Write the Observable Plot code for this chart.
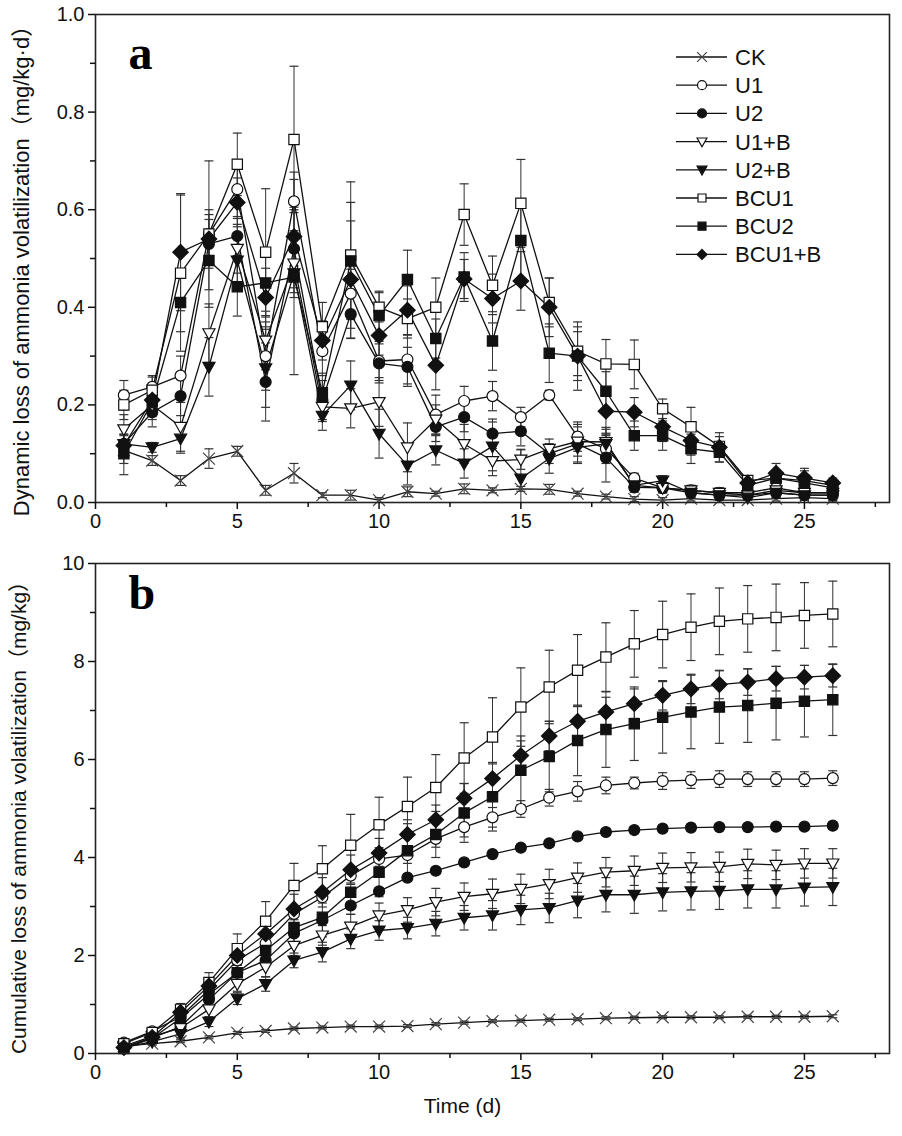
<!DOCTYPE html>
<html><head><meta charset="utf-8">
<script src="https://cdn.jsdelivr.net/npm/d3@7"></script>
<script src="https://cdn.jsdelivr.net/npm/@observablehq/plot@0.6"></script>
<style>
body{margin:0;background:#fff;}
#chart{width:902px;}
#chart svg{display:block;}
</style></head><body><div id="chart"></div>
<script>
// ---------- data ----------
const days = [1,2,3,4,5,6,7,8,9,10,11,12,13,14,15,16,17,18,19,20,21,22,23,24,25,26];
const seriesNames = ["CK","U1","U2","U1+B","U2+B","BCU1","BCU2","BCU1+B"];

// (a) dynamic loss, mg/kg·d
const dynCK   = [0.107,0.086,0.045,0.09,0.105,0.025,0.06,0.015,0.015,0.005,0.022,0.018,0.028,0.025,0.028,0.027,0.018,0.012,0.007,0.005,0.008,0.005,0.005,0.008,0.01,0.008];
const dynU1   = [0.22,0.237,0.26,0.55,0.642,0.30,0.617,0.31,0.428,0.29,0.293,0.18,0.208,0.218,0.175,0.22,0.135,0.11,0.05,0.03,0.025,0.02,0.02,0.03,0.02,0.02];
const dynU2   = [0.12,0.185,0.218,0.53,0.546,0.247,0.52,0.21,0.386,0.285,0.278,0.155,0.175,0.141,0.146,0.10,0.12,0.092,0.031,0.03,0.02,0.015,0.015,0.02,0.015,0.015];
const dynU1B  = [0.15,0.20,0.155,0.347,0.52,0.332,0.49,0.196,0.193,0.206,0.113,0.17,0.12,0.085,0.088,0.11,0.125,0.124,0.035,0.03,0.025,0.02,0.015,0.025,0.02,0.02];
const dynU2B  = [0.12,0.113,0.131,0.278,0.496,0.275,0.47,0.178,0.24,0.141,0.076,0.107,0.08,0.115,0.049,0.09,0.113,0.12,0.035,0.045,0.02,0.015,0.01,0.02,0.015,0.015];
const dynBCU1 = [0.20,0.23,0.47,0.55,0.693,0.513,0.744,0.36,0.507,0.40,0.377,0.40,0.59,0.445,0.613,0.41,0.31,0.284,0.283,0.192,0.155,0.115,0.045,0.05,0.045,0.035];
const dynBCU2 = [0.10,0.206,0.41,0.496,0.442,0.45,0.462,0.225,0.495,0.383,0.457,0.336,0.462,0.331,0.537,0.306,0.30,0.228,0.137,0.137,0.11,0.103,0.035,0.05,0.04,0.03];
const dynBCU1B= [0.117,0.21,0.513,0.54,0.615,0.42,0.545,0.332,0.457,0.342,0.394,0.281,0.458,0.418,0.454,0.40,0.30,0.187,0.185,0.155,0.127,0.113,0.04,0.06,0.05,0.04];

const dynErrCK   = [0.05,0.01,0.01,0.02,0.01,0.01,0.02,0.005,0.01,0.005,0.01,0.005,0.01,0.005,0.005,0.01,0.005,0.005,0.005,0.005,0.005,0.005,0.005,0.005,0.005,0.005];
const dynErrU1   = [0.03,0.02,0.04,0.05,0.06,0.07,0.06,0.05,0.05,0.04,0.05,0.04,0.03,0.03,0.02,0.01,0.03,0.03,0.01,0.01,0.01,0.01,0.01,0.01,0.01,0.01];
const dynErrU2   = [0.02,0.03,0.04,0.05,0.04,0.08,0.08,0.04,0.05,0.04,0.04,0.03,0.03,0.03,0.03,0.02,0.04,0.05,0.01,0.01,0.01,0.01,0.01,0.01,0.01,0.01];
const dynErrU1B  = [0.03,0.03,0.05,0.06,0.05,0.06,0.06,0.03,0.04,0.05,0.05,0.03,0.04,0.03,0.02,0.02,0.03,0.03,0.01,0.01,0.01,0.01,0.01,0.01,0.01,0.01];
const dynErrU2B  = [0.02,0.01,0.03,0.06,0.05,0.08,0.05,0.03,0.05,0.05,0.04,0.03,0.03,0.05,0.06,0.03,0.03,0.03,0.01,0.01,0.01,0.01,0.01,0.01,0.01,0.01];
const dynErrBCU1 = [0.03,0.03,0.16,0.15,0.064,0.13,0.15,0.05,0.15,0.03,0.04,0.06,0.063,0.06,0.09,0.05,0.05,0.05,0.05,0.02,0.04,0.02,0.01,0.01,0.02,0.01];
const dynErrBCU2 = [0.02,0.03,0.06,0.06,0.06,0.07,0.2,0.04,0.12,0.05,0.06,0.04,0.05,0.06,0.08,0.06,0.05,0.04,0.03,0.03,0.03,0.02,0.01,0.01,0.01,0.01];
const dynErrBCU1B= [0.02,0.03,0.12,0.05,0.05,0.06,0.06,0.04,0.12,0.04,0.05,0.05,0.04,0.05,0.06,0.06,0.07,0.05,0.03,0.03,0.03,0.03,0.01,0.02,0.02,0.01];

// (b) cumulative loss, mg/kg
const cumCK   = [0.15,0.2,0.25,0.33,0.42,0.46,0.51,0.53,0.55,0.55,0.56,0.6,0.63,0.66,0.67,0.69,0.7,0.72,0.73,0.74,0.74,0.74,0.75,0.75,0.75,0.76];
const cumU1   = [0.22,0.45,0.75,1.3,1.9,2.25,2.85,3.19,3.63,3.97,4.05,4.38,4.62,4.82,4.99,5.22,5.35,5.47,5.52,5.56,5.58,5.6,5.6,5.6,5.6,5.62];
const cumU2   = [0.12,0.32,0.55,1.1,1.65,1.9,2.45,2.72,3.02,3.31,3.59,3.73,3.90,4.07,4.2,4.29,4.43,4.52,4.56,4.59,4.61,4.62,4.62,4.63,4.63,4.65];
const cumU1B  = [0.15,0.35,0.52,0.9,1.42,1.76,2.2,2.41,2.59,2.82,2.93,3.09,3.2,3.26,3.36,3.46,3.59,3.70,3.73,3.79,3.80,3.81,3.87,3.85,3.88,3.88];
const cumU2B  = [0.12,0.24,0.4,0.65,1.12,1.42,1.9,2.07,2.34,2.51,2.56,2.65,2.77,2.82,2.93,2.97,3.12,3.24,3.24,3.29,3.31,3.32,3.35,3.35,3.39,3.40];
const cumBCU1 = [0.2,0.43,0.9,1.45,2.14,2.7,3.43,3.77,4.25,4.67,5.04,5.43,6.03,6.46,7.07,7.48,7.82,8.09,8.36,8.55,8.70,8.82,8.87,8.90,8.94,8.97];
const cumBCU2 = [0.1,0.31,0.72,1.21,1.65,2.1,2.57,2.78,3.29,3.70,4.14,4.47,4.91,5.24,5.78,6.06,6.39,6.61,6.73,6.86,6.97,7.07,7.10,7.15,7.19,7.22];
const cumBCU1B= [0.12,0.33,0.84,1.38,2.0,2.44,2.95,3.29,3.75,4.09,4.47,4.77,5.21,5.61,6.08,6.48,6.78,6.97,7.14,7.31,7.44,7.53,7.58,7.65,7.68,7.71];

const cumErrCK   = [0.03,0.03,0.03,0.03,0.03,0.03,0.03,0.03,0.03,0.03,0.03,0.03,0.03,0.03,0.03,0.03,0.03,0.03,0.03,0.03,0.03,0.03,0.03,0.03,0.03,0.03];
const cumErrU1   = [0.03,0.05,0.08,0.1,0.1,0.12,0.12,0.12,0.15,0.15,0.17,0.17,0.2,0.2,0.17,0.17,0.2,0.17,0.12,0.17,0.17,0.17,0.15,0.15,0.15,0.15];
const cumErrU2   = [0.03,0.04,0.05,0.05,0.06,0.06,0.06,0.06,0.07,0.07,0.07,0.07,0.07,0.07,0.07,0.07,0.07,0.07,0.07,0.07,0.07,0.07,0.07,0.07,0.07,0.07];
const cumErrU1B  = [0.03,0.06,0.1,0.15,0.15,0.2,0.2,0.2,0.25,0.25,0.25,0.28,0.28,0.3,0.3,0.3,0.3,0.3,0.3,0.3,0.3,0.3,0.3,0.3,0.3,0.3];
const cumErrU2B  = [0.03,0.05,0.08,0.1,0.12,0.15,0.15,0.2,0.2,0.2,0.22,0.25,0.25,0.3,0.3,0.3,0.35,0.35,0.38,0.38,0.38,0.38,0.38,0.38,0.38,0.38];
const cumErrBCU1 = [0.05,0.08,0.12,0.2,0.3,0.4,0.45,0.47,0.63,0.56,0.6,0.67,0.72,0.8,0.8,0.75,0.73,0.7,0.68,0.68,0.68,0.68,0.68,0.68,0.67,0.67];
const cumErrBCU2 = [0.03,0.05,0.1,0.15,0.2,0.3,0.35,0.4,0.45,0.5,0.55,0.47,0.6,0.7,0.7,0.72,0.72,0.77,0.75,0.73,0.75,0.74,0.75,0.75,0.73,0.73];
const cumErrBCU1B= [0.03,0.05,0.1,0.15,0.2,0.25,0.3,0.3,0.3,0.3,0.3,0.3,0.3,0.3,0.3,0.3,0.3,0.3,0.3,0.3,0.3,0.29,0.27,0.25,0.24,0.23];

const xMajor = [0,5,10,15,20,25];
const xMinor = [2.5,7.5,12.5,17.5,22.5,27.5];
const yMajorA = [0,0.2,0.4,0.6,0.8,1.0];
const yMinorA = [0.1,0.3,0.5,0.7,0.9];
const yMajorB = [0,2,4,6,8,10];
const yMinorB = [1,3,5,7,9];
const titleA = "Dynamic loss of ammonia volatilization（mg/kg·d）";
const titleB = "Cumulative loss of ammonia volatilization（mg/kg）";
const titleX = "Time (d)";

const dynValues = [dynCK,dynU1,dynU2,dynU1B,dynU2B,dynBCU1,dynBCU2,dynBCU1B];
const dynErrs   = [dynErrCK,dynErrU1,dynErrU2,dynErrU1B,dynErrU2B,dynErrBCU1,dynErrBCU2,dynErrBCU1B];
const cumValues = [cumCK,cumU1,cumU2,cumU1B,cumU2B,cumBCU1,cumBCU2,cumBCU1B];
const cumErrs   = [cumErrCK,cumErrU1,cumErrU2,cumErrU1B,cumErrU2B,cumErrBCU1,cumErrBCU2,cumErrBCU1B];

// ---------- styles ----------
const FONT = '"Liberation Sans", Arial, "Noto Sans CJK SC", sans-serif';
const SERIF = '"Liberation Serif", "Times New Roman", serif';
const downTri = {draw(ctx, size){ const r = Math.sqrt(size/Math.PI);
  ctx.moveTo(-r*1.1,-r*0.8); ctx.lineTo(r*1.1,-r*0.8); ctx.lineTo(0,r*1.15); ctx.closePath(); }};
const capSym = {draw(ctx, size){ const r = Math.sqrt(size/Math.PI); ctx.moveTo(-r,0); ctx.lineTo(r,0); }};
const styles = {
  "CK":     {symbol:d3.symbolTimes,   fill:"none",  stroke:"#444", r:5.5},
  "U1":     {symbol:d3.symbolCircle,  fill:"white", stroke:"#111", r:5.5},
  "U2":     {symbol:d3.symbolCircle,  fill:"#111",  stroke:"#111", r:5.5},
  "U1+B":   {symbol:downTri,          fill:"white", stroke:"#111", r:5.5},
  "U2+B":   {symbol:downTri,          fill:"#111",  stroke:"#111", r:5.5},
  "BCU1":   {symbol:d3.symbolSquare,  fill:"white", stroke:"#111", r:5.8},
  "BCU2":   {symbol:d3.symbolSquare,  fill:"#111",  stroke:"#111", r:5.8},
  "BCU1+B": {symbol:d3.symbolDiamond2,fill:"#111",  stroke:"#111", r:7}
};

function tidy(values, errs){
  const rows = [];
  seriesNames.forEach((s,i)=> days.forEach((d,j)=> rows.push({series:s, day:d, value:values[i][j], err:errs[i][j]})));
  return rows;
}

function seriesMarks(rows){
  const marks = [
    Plot.ruleX(rows, {x:"day", y1:d=>Math.max(0,d.value-d.err), y2:d=>d.value+d.err, stroke:"#333", strokeWidth:1}),
    Plot.dot(rows, {x:"day", y:d=>d.value+d.err, symbol:capSym, r:4.5, stroke:"#333", strokeWidth:1.2, fill:"none"}),
    Plot.dot(rows.filter(d=>d.value-d.err>0), {x:"day", y:d=>d.value-d.err, symbol:capSym, r:4.5, stroke:"#333", strokeWidth:1.2, fill:"none"}),
    Plot.line(rows, {x:"day", y:"value", z:"series", stroke:"#111", strokeWidth:1.3})
  ];
  seriesNames.forEach(s=>{
    const st = styles[s];
    marks.push(Plot.dot(rows.filter(d=>d.series===s), {x:"day", y:"value", symbol:st.symbol, r:st.r, fill:st.fill, stroke:st.stroke, strokeWidth:1.2}));
  });
  return marks;
}

function axes(yMajor, yMinor, yFmt){
  return [
    Plot.frame({stroke:"#222", strokeWidth:1.6}),
    Plot.axisX({ticks:xMajor, tickSize:7, tickPadding:4, strokeWidth:1.5, tickFormat:d=>String(d), label:null}),
    Plot.axisX({ticks:xMinor.filter(v=>v<28), tickSize:5, strokeWidth:1.5, tickFormat:()=>"", label:null}),
    Plot.axisY({ticks:yMajor, tickSize:7, tickPadding:4, strokeWidth:1.5, tickFormat:yFmt, label:null}),
    Plot.axisY({ticks:yMinor, tickSize:5, strokeWidth:1.5, tickFormat:()=>"", label:null})
  ];
}

const dynRows = tidy(dynValues, dynErrs);
const cumRows = tidy(cumValues, cumErrs);

const plotA = Plot.plot({
  width:902, height:540, marginTop:14, marginBottom:38, marginLeft:95, marginRight:13,
  style:{fontFamily:FONT, fontSize:"20px", color:"#111", background:"white", overflow:"visible"},
  x:{domain:[0,28]}, y:{domain:[0,1]},
  marks:[
    ...seriesMarks(dynRows),
    ...axes(yMajorA, yMinorA, d3.format(".1f")),
    Plot.text([titleA], {frameAnchor:"left", rotate:-90, dx:-74, dy:7, fontSize:22, textAnchor:"middle", fill:"#111"}),
    Plot.text(["a"], {frameAnchor:"top-left", dx:33, dy:20, textAnchor:"start", lineAnchor:"top",
      fontSize:48, fontWeight:"bold", fontFamily:SERIF, fill:"#000"})
  ]
});

const plotB = Plot.plot({
  width:902, height:596, marginTop:23, marginBottom:83, marginLeft:95, marginRight:13,
  style:{fontFamily:FONT, fontSize:"20px", color:"#111", background:"white", overflow:"visible"},
  x:{domain:[0,28]}, y:{domain:[0,10]},
  marks:[
    ...seriesMarks(cumRows),
    ...axes(yMajorB, yMinorB, d=>String(d)),
    Plot.text([titleB], {frameAnchor:"left", rotate:-90, dx:-76, dy:4, fontSize:21, textAnchor:"middle", fill:"#111"}),
    Plot.text([titleX], {frameAnchor:"bottom", dx:-30, dy:59, fontSize:21, textAnchor:"middle", fill:"#111"}),
    Plot.text(["b"], {frameAnchor:"top-left", dx:33, dy:11, textAnchor:"start", lineAnchor:"top",
      fontSize:48, fontWeight:"bold", fontFamily:SERIF, fill:"#000"})
  ]
});

document.getElementById("chart").append(plotA, plotB);

// legend in panel a
const svgA = d3.select(plotA);
const lg = svgA.append("g").attr("font-family", FONT).attr("font-size", 22).attr("fill", "#111").attr("text-anchor","start");
seriesNames.forEach((s,i)=>{
  const st = styles[s];
  const y = 57 + i*28.2;
  const g = lg.append("g").attr("transform", `translate(0,${y})`);
  g.append("line").attr("x1",676).attr("x2",727).attr("y1",0).attr("y2",0).attr("stroke","#111").attr("stroke-width",1.3);
  g.append("path").attr("transform","translate(702,0)")
    .attr("d", d3.symbol(st.symbol, Math.PI*4.5*4.5)())
    .attr("fill", st.fill).attr("stroke", st.stroke).attr("stroke-width",1.2);
  g.append("text").attr("x",735).attr("y",0).attr("dy","0.36em").attr("text-anchor","start").text(s);
});
</script></body></html>
